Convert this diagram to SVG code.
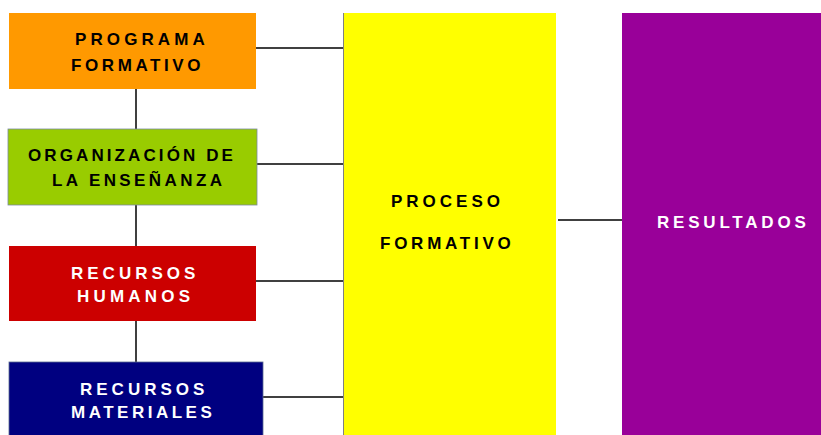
<svg xmlns="http://www.w3.org/2000/svg" width="821" height="435" viewBox="0 0 821 435">
<style>
  text { font-family: "Liberation Sans", Arial, sans-serif; font-weight: bold; font-size: 17px; letter-spacing: 3.8px; }
  .dk { fill: #000000; }
  .lt { fill: #ffffff; }
  .conn line { stroke: #000000; stroke-width: 1.5; }
</style>
<rect width="821" height="435" fill="#ffffff"/>
<g class="conn" id="connectors">
  <line x1="136" y1="89" x2="136" y2="129"/>
  <line x1="136" y1="205" x2="136" y2="246"/>
  <line x1="136" y1="321" x2="136" y2="362"/>
  <line x1="256" y1="48" x2="343" y2="48"/>
  <line x1="257" y1="164" x2="347" y2="164"/>
  <line x1="256" y1="281" x2="347" y2="281"/>
  <line x1="263" y1="397" x2="347" y2="397"/>
  <line x1="558" y1="220" x2="629" y2="220"/>
</g>
<g id="programa">
  <rect x="9" y="13" width="247" height="76" fill="#FF9900"/>
  <text class="dk" x="75" y="45" style="letter-spacing:4.1px">PROGRAMA</text>
  <text class="dk" x="71" y="71" style="letter-spacing:3.6px">FORMATIVO</text>
</g>
<g id="organizacion">
  <rect x="8" y="129" width="249" height="76" fill="#99CC00" stroke="#7a8aa0" stroke-width="0.8"/>
  <text class="dk" x="28" y="161" style="letter-spacing:3.1px">ORGANIZACIÓN DE</text>
  <text class="dk" x="52" y="186" style="letter-spacing:3.4px">LA ENSEÑANZA</text>
</g>
<g id="humanos">
  <rect x="9" y="246" width="247" height="75" fill="#CC0000"/>
  <text class="lt" x="71" y="279" style="letter-spacing:4px">RECURSOS</text>
  <text class="lt" x="77" y="302" style="letter-spacing:4.2px">HUMANOS</text>
</g>
<g id="materiales">
  <rect x="9" y="362" width="254" height="74" fill="#000080" stroke="#5a6a90" stroke-width="0.8"/>
  <text class="lt" x="80" y="395" style="letter-spacing:4px">RECURSOS</text>
  <text class="lt" x="71" y="418" style="letter-spacing:3.5px">MATERIALES</text>
</g>
<g id="proceso">
  <rect x="343" y="13" width="213" height="423" fill="#FFFF00"/>
  <line x1="343.5" y1="13" x2="343.5" y2="435" stroke="#808080" stroke-width="1"/>
  <text class="dk" x="391" y="207" style="letter-spacing:4px">PROCESO</text>
  <text class="dk" x="380" y="249" style="letter-spacing:3.75px">FORMATIVO</text>
</g>
<g id="resultados">
  <rect x="622" y="13" width="200" height="423" fill="#990099"/>
  <text class="lt" x="657" y="228">RESULTADOS</text>
</g>
</svg>
